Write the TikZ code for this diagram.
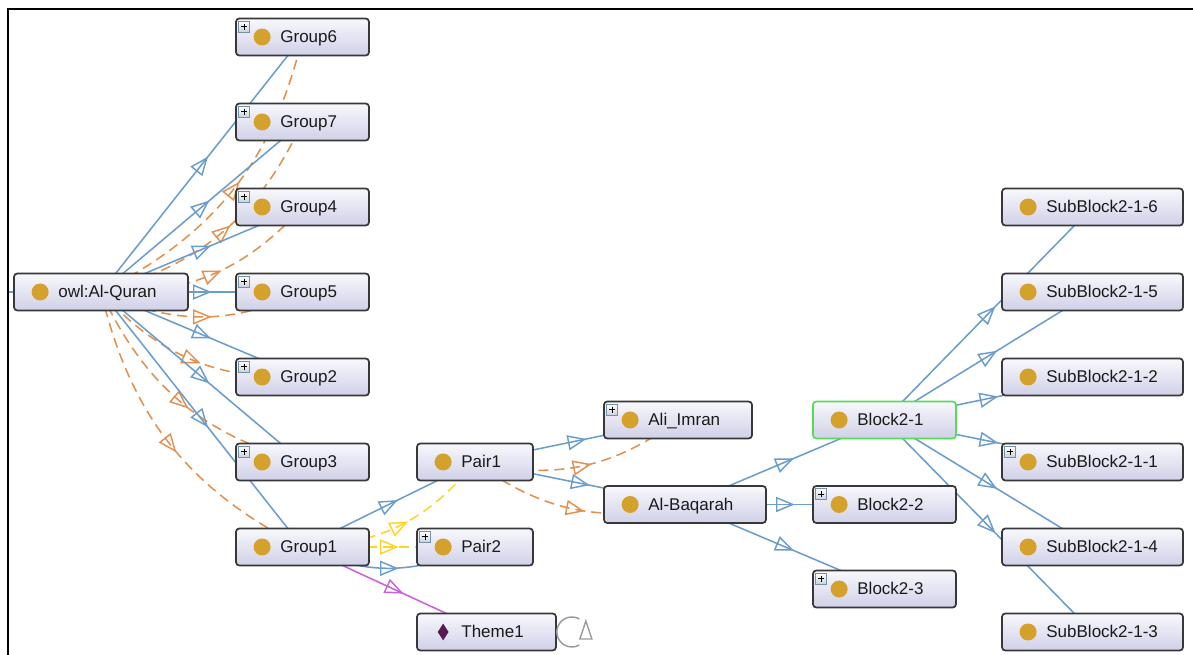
\documentclass[tikz,border=0pt]{standalone}
\usepackage{fontspec}
\setmainfont{Liberation Sans}
\usetikzlibrary{arrows.meta,decorations.markings,calc,shapes.geometric}
\pgfdeclarelayer{paper}
\pgfdeclarelayer{edges}
\pgfsetlayers{paper,edges,main}

\definecolor{isaC}{HTML}{6A9DCE}
\definecolor{propC}{HTML}{E3904E}
\definecolor{yelC}{HTML}{FFD42A}
\definecolor{purC}{HTML}{C862D8}
\definecolor{goldC}{HTML}{D4A22C}
\definecolor{gemC}{HTML}{5A1850}
\definecolor{boxline}{HTML}{383838}
\definecolor{boxtop}{HTML}{F8F8FD}
\definecolor{boxbot}{HTML}{D0D0E8}
\definecolor{selC}{HTML}{55DD55}
\definecolor{plusline}{HTML}{7890A4}
\definecolor{plusbot}{HTML}{C8D2DE}
\definecolor{loopC}{HTML}{9A9A9A}
\definecolor{txtC}{HTML}{1A1A1A}

% entity box: name, x, y, width, label, marker style, extra box style
\newcommand\ent[7]{%
  \node[box, minimum width=#4*0.75pt, #7] (#1) at (#2,#3) {};
  \node[#6] (#1-m) at ($(#1.west)+(27,0)$) {};
  \node[lbl] (#1-t) at ($(#1.west)+(45,6)$) {#5};
}
% small expand icon in the upper left corner of a box
\newcommand\expander[1]{%
  \node[plusicon] (#1-p) at ($(#1.north west)+(9,9)$) {};
}

\begin{document}
\begin{tikzpicture}[x=0.75pt, y=-0.75pt,
  box/.style={rectangle, rounded corners=2.5pt, draw=boxline, line width=1.3pt,
    top color=boxtop, bottom color=boxbot, minimum height=37*0.75pt, inner sep=0pt},
  sel/.style={draw=selC},
  dot/.style={circle, fill=goldC, minimum size=17*0.75pt, inner sep=0pt},
  gem/.style={diamond, fill=gemC, minimum width=11*0.75pt, minimum height=17*0.75pt, inner sep=0pt},
  lbl/.style={anchor=base west, inner sep=0pt, font=\fontsize{12.75}{15}\selectfont, text=txtC},
  plusicon/.style={rectangle, draw=plusline, line width=0.6pt, top color=white,
    bottom color=plusbot, minimum size=11*0.75pt, inner sep=0pt,
    path picture={
      \draw[line width=0.7pt, black]
        ($(path picture bounding box.west)+(2.5,0)$) -- ($(path picture bounding box.east)+(-2.5,0)$)
        ($(path picture bounding box.north)+(0,2.5)$) -- ($(path picture bounding box.south)+(0,-2.5)$);
    }},
  mid/.style={postaction={decorate}, decoration={markings, mark=at position 0.5 with {
      \draw[solid, line width=1.1pt, line join=miter] (-6pt,-5pt) -- (6pt,0pt) -- (-6pt,5pt) -- cycle;}}},
  isa/.style={draw=isaC, color=isaC, line width=1.15pt, mid},
  prop/.style={draw=propC, color=propC, line width=1.15pt, dash pattern=on 7.5pt off 4.5pt, mid},
  pairprop/.style={draw=yelC, color=yelC, line width=1.15pt, dash pattern=on 7.5pt off 4.5pt, mid},
  themeprop/.style={draw=purC, color=purC, line width=1.15pt, mid},
  selfloop/.style={draw=loopC, line width=1.1pt},
]
\useasboundingbox (0,0) rectangle (1193,655);
\begin{pgfonlayer}{paper}
  \fill[white] (0,0) rectangle (1193,655);
\end{pgfonlayer}

% frame
\draw[line width=1.5pt, black] (8,655) -- (8,9) -- (1193,9);

% entities
\ent{quran}{101}{292}{174}{owl:Al-Quran}{dot}{}
\ent{g6}{302.5}{37}{133}{Group6}{dot}{}
\ent{g7}{302.5}{122}{133}{Group7}{dot}{}
\ent{g4}{302.5}{207}{133}{Group4}{dot}{}
\ent{g5}{302.5}{292}{133}{Group5}{dot}{}
\ent{g2}{302.5}{377}{133}{Group2}{dot}{}
\ent{g3}{302.5}{462}{133}{Group3}{dot}{}
\ent{g1}{302.5}{547}{133}{Group1}{dot}{}
\ent{p1}{475}{462}{116}{Pair1}{dot}{}
\ent{p2}{475}{547}{116}{Pair2}{dot}{}
\ent{th}{486.5}{632}{139}{Theme1}{gem}{}
\ent{ali}{678}{420}{148}{Ali\_Imran}{dot}{}
\ent{baq}{685}{504.5}{162}{Al-Baqarah}{dot}{}
\ent{b1}{884.5}{420}{143}{Block2-1}{dot}{sel}
\ent{b2}{884.5}{504.5}{143}{Block2-2}{dot}{}
\ent{b3}{884.5}{589}{143}{Block2-3}{dot}{}
\ent{s6}{1092.5}{207}{181}{SubBlock2-1-6}{dot}{}
\ent{s5}{1092.5}{292}{181}{SubBlock2-1-5}{dot}{}
\ent{s2}{1092.5}{377}{181}{SubBlock2-1-2}{dot}{}
\ent{s1}{1092.5}{462}{181}{SubBlock2-1-1}{dot}{}
\ent{s4}{1092.5}{547}{181}{SubBlock2-1-4}{dot}{}
\ent{s3}{1092.5}{632}{181}{SubBlock2-1-3}{dot}{}

\foreach \n in {g6,g7,g4,g5,g2,g3,p2,ali,b2,b3,s1}{\expander{\n}}

\coordinate (outer) at (8,292);
\coordinate (loopc) at ($(th.east)+(15,0)$);

\begin{pgfonlayer}{edges}
  \draw[draw=isaC, line width=1.15pt] (outer) -- (quran.center);
  % subclass links
  \foreach \g in {g6,g7,g4,g5,g2,g3,g1}{
    \draw[isa] (quran.center) -- (\g.center);
    \draw[prop] (quran.center) to[bend right=25] (\g.center);
  }
  \draw[isa] (g1.center) -- (p1.center);
  \draw[pairprop] (g1.center) to[bend right=25] (p1.center);
  \draw[pairprop] (g1.center) -- (p2.center);
  \draw[isa] (g1.center) to[bend right=25] (p2.center);
  \draw[themeprop] (g1.center) -- (th.center);
  \draw[isa] (p1.center) -- (ali.center);
  \draw[prop] (p1.center) to[bend right=25] (ali.center);
  \draw[isa] (p1.center) -- (baq.center);
  \draw[prop] (p1.center) to[bend right=25] (baq.center);
  \foreach \b in {b1,b2,b3}{\draw[isa] (baq.center) -- (\b.center);}
  \foreach \s in {s6,s5,s2,s1,s4,s3}{\draw[isa] (b1.center) -- (\s.center);}
\end{pgfonlayer}

% self loop on Theme1
\draw[selfloop] ($(loopc)+(7.5,-13)$) arc[start angle=-60, end angle=-300, radius=15];
\draw[selfloop, line join=miter] ($(loopc)+(14,-11)$) -- ($(loopc)+(20,7)$) -- ($(loopc)+(8,7)$) -- cycle;
\end{tikzpicture}
\end{document}
